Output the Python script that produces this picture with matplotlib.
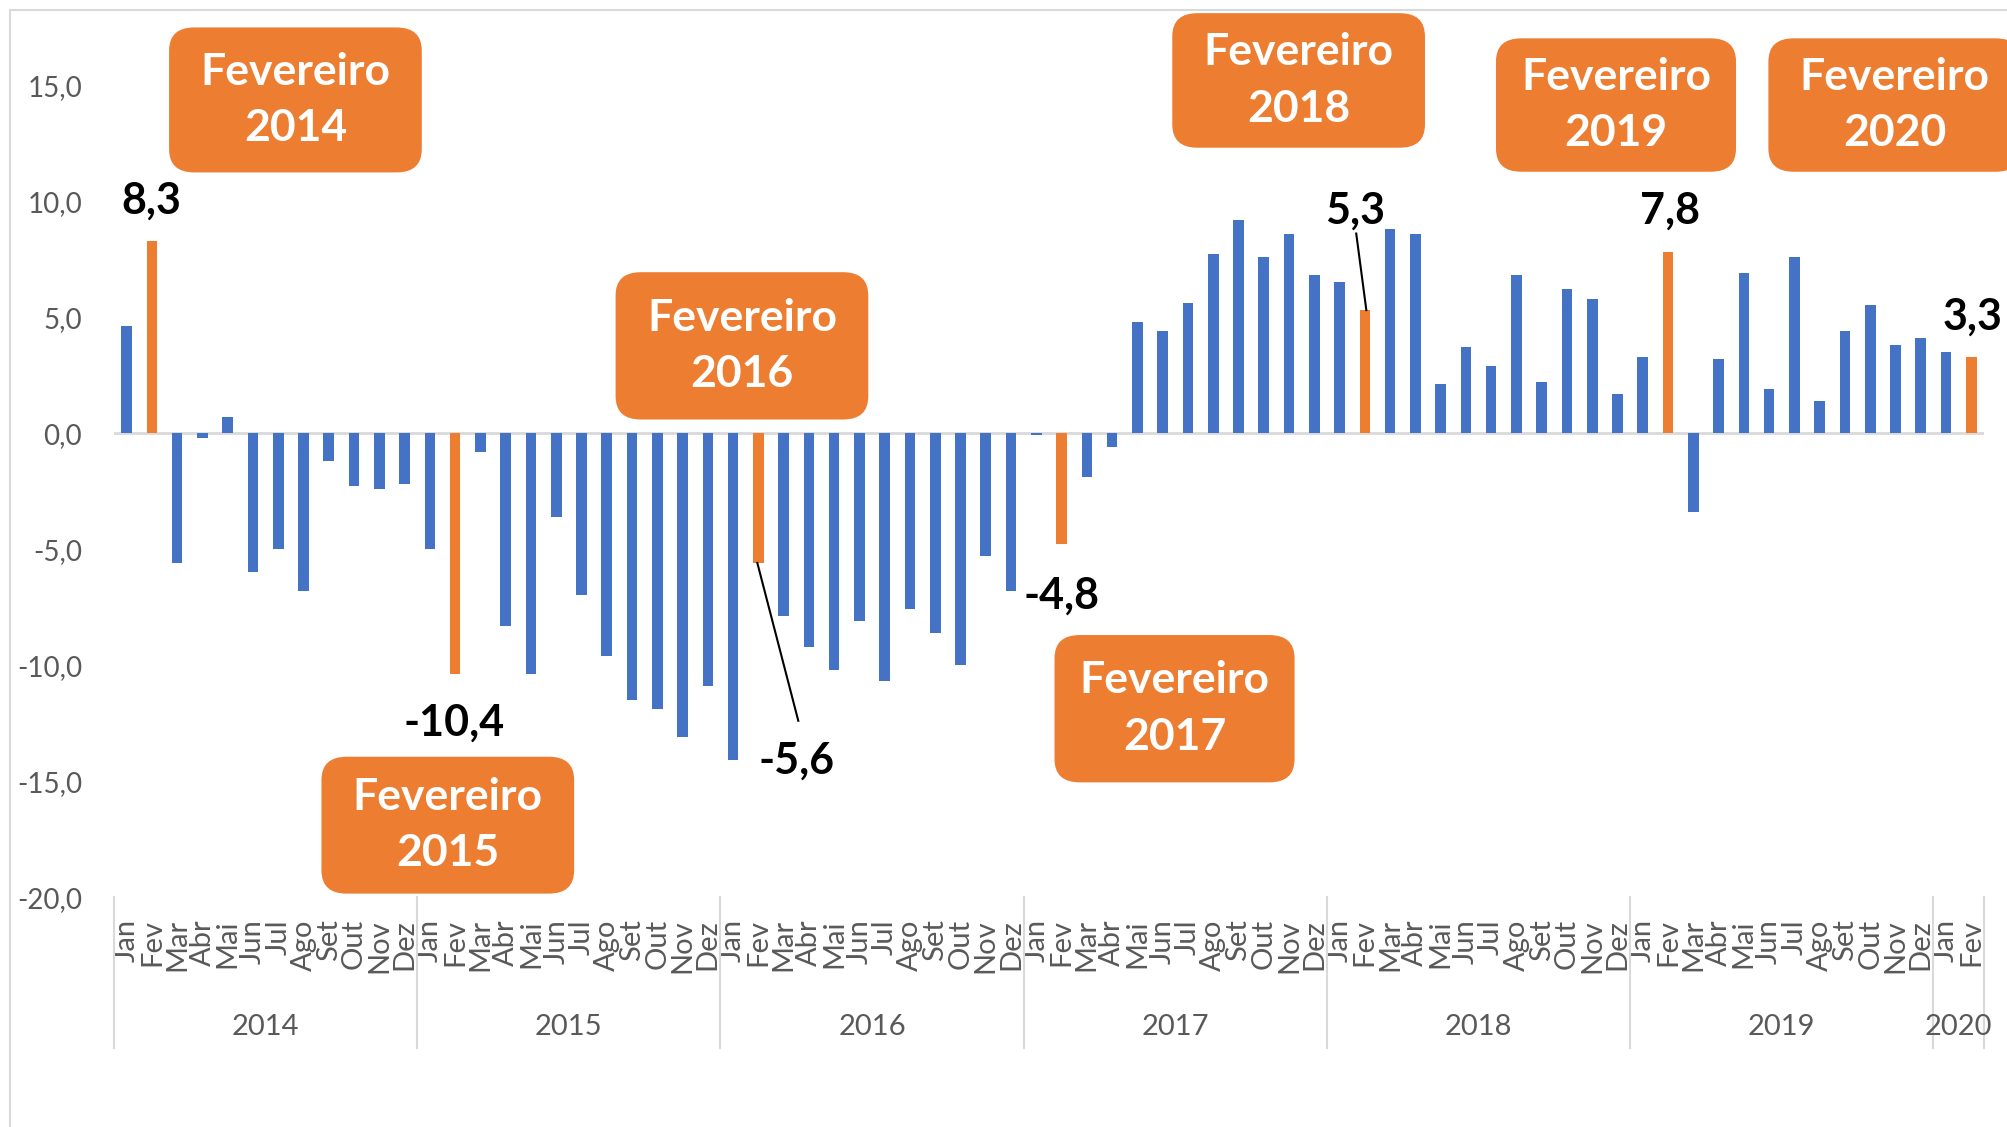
import matplotlib
matplotlib.use("Agg")
import matplotlib.pyplot as plt
import matplotlib.transforms as mtransforms
from matplotlib.patches import FancyBboxPatch, Rectangle

plt.rcParams['font.family'] = ['Lato', 'DejaVu Sans']

# Data: monthly variation (%), Jan 2014 - Fev 2020
months = ['Jan', 'Fev', 'Mar', 'Abr', 'Mai', 'Jun', 'Jul', 'Ago', 'Set', 'Out', 'Nov', 'Dez']
years = ['2014', '2015', '2016', '2017', '2018', '2019', '2020']
months_per_year = [12, 12, 12, 12, 12, 12, 2]

values_2014 = [4.6, 8.3, -5.6, -0.2, 0.7, -6.0, -5.0, -6.8, -1.2, -2.3, -2.4, -2.2]
values_2015 = [-5.0, -10.4, -0.8, -8.3, -10.4, -3.6, -7.0, -9.6, -11.5, -11.9, -13.1, -10.9]
values_2016 = [-14.1, -5.6, -7.9, -9.2, -10.2, -8.1, -10.7, -7.6, -8.6, -10.0, -5.3, -6.8]
values_2017 = [-0.1, -4.8, -1.9, -0.6, 4.8, 4.4, 5.6, 7.7, 9.2, 7.6, 8.6, 6.8]
values_2018 = [6.5, 5.3, 8.8, 8.6, 2.1, 3.7, 2.9, 6.8, 2.2, 6.2, 5.8, 1.7]
values_2019 = [3.3, 7.8, -3.4, 3.2, 6.9, 1.9, 7.6, 1.4, 4.4, 5.5, 3.8, 4.1]
values_2020 = [3.5, 3.3]

values = values_2014 + values_2015 + values_2016 + values_2017 + values_2018 + values_2019 + values_2020
labels = [months[i % 12] for i in range(len(values))]

BLUE = '#4472C4'
ORANGE = '#ED7D31'
GRAY = '#595959'
LIGHT = '#D9D9D9'

fig = plt.figure(figsize=(20.07, 11.27), dpi=100)
ax = fig.add_axes([0.0568, 0.204, 0.9317, 0.7205])

x = list(range(len(values)))
colors = [ORANGE if lab == 'Fev' else BLUE for lab in labels]
ax.bar(x, values, width=0.42, color=colors, zorder=2)
ax.axhline(0, color=LIGHT, lw=2, zorder=1)

ax.set_xlim(-0.5, len(values) - 0.5)
ax.set_ylim(-20, 15)
yt = list(range(-20, 16, 5))
ax.set_yticks(yt, labels=[f'{v:.1f}'.replace('.', ',') for v in yt])
ax.tick_params(axis='y', length=0, pad=23, labelsize=20, labelcolor=GRAY)
ax.set_xticks(x, labels=labels, rotation=90)
ax.tick_params(axis='x', length=0, pad=16, labelsize=21, labelcolor=GRAY)
for s in ax.spines.values():
    s.set_visible(False)

# year groups
trans = mtransforms.blended_transform_factory(ax.transData, ax.transAxes)
start = 0
bounds = [-0.5]
for yr, n in zip(years, months_per_year):
    ax.text(start + (n - 1) / 2, -0.160, yr, transform=trans, ha='center', va='center',
            fontsize=21, color=GRAY)
    start += n
    bounds.append(start - 0.5)
for b in bounds:
    ax.plot([b, b], [0, -0.186], transform=trans, color=LIGHT, lw=1.5, clip_on=False)

# value labels for February
lbl_style = dict(fontsize=31, fontweight='bold', color='black', ha='center', va='center')
ax.text(0.96, 10.0, '8,3', **lbl_style)
ax.text(12.96, -12.5, '-10,4', **lbl_style)
ax.text(26.5, -14.1, '-5,6', **lbl_style)
ax.text(37.0, -7.0, '-4,8', **lbl_style)
ax.text(48.6, 9.6, '5,3', **lbl_style)
ax.text(61.06, 9.6, '7,8', **lbl_style)
ax.text(73.06, 5.0, '3,3', clip_on=False, **lbl_style)
ax.plot([24.96, 26.58], [-5.6, -12.4], color='black', lw=1.5, zorder=3)
ax.plot([49.06, 48.66], [5.3, 8.6], color='black', lw=1.5, zorder=3)

# orange callout boxes
boxes = [('2014', 6.68, 14.36, 10.0, 6.25),
         ('2015', 12.71, -16.9, 10.0, 5.9),
         ('2016', 24.35, 3.76, 10.0, 6.35),
         ('2017', 41.47, -11.88, 9.5, 6.35),
         ('2018', 46.38, 15.2, 10.0, 5.8),
         ('2019', 58.94, 14.14, 9.5, 5.75),
         ('2020', 69.97, 14.14, 10.0, 5.75)]
for yr, cx, cy, w, h in boxes:
    p = FancyBboxPatch((cx - w / 2, cy - h / 2), w, h,
                       boxstyle='round,pad=0,rounding_size=1.0',
                       fc=ORANGE, ec='none', clip_on=False, zorder=4)
    ax.add_patch(p)
    ax.text(cx, cy, f'Fevereiro\n{yr}', ha='center', va='center', color='white',
            fontsize=32, fontweight='bold', linespacing=1.5, zorder=5, clip_on=False)

# chart frame
fig.add_artist(Rectangle((10 / 2007, -0.1), 1.2, 1 - 10 / 1127 + 0.1,
                         transform=fig.transFigure, fill=False, ec=LIGHT, lw=1.5))

fig.savefig('out.png', dpi=100)
